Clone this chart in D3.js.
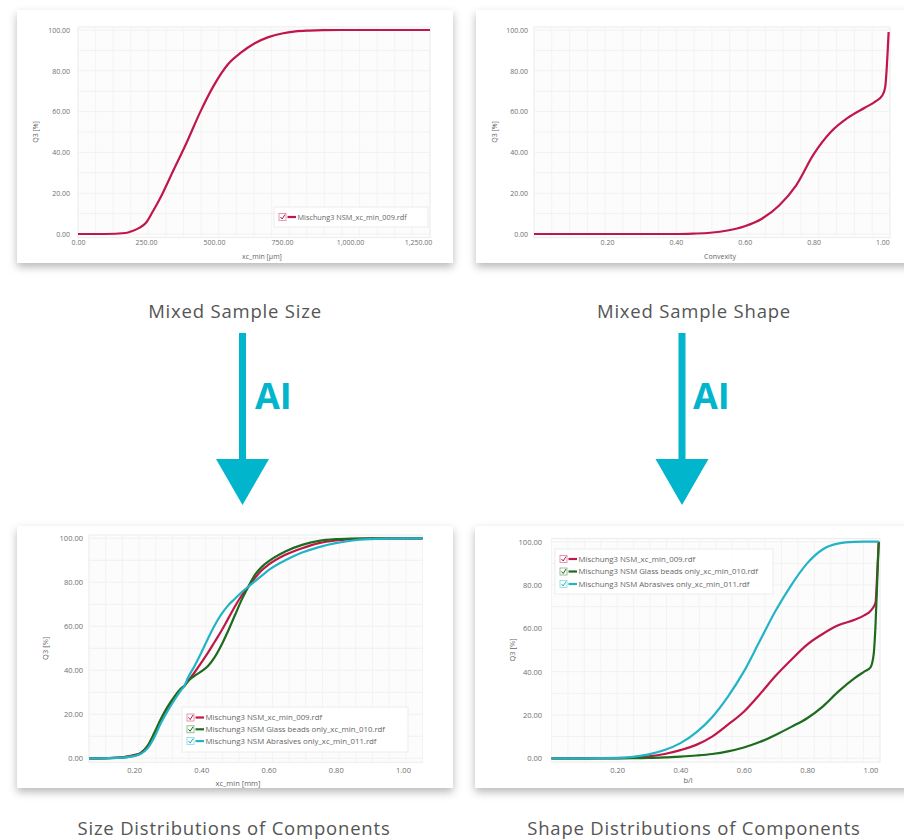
<!DOCTYPE html>
<html>
<head>
<meta charset="utf-8">
<script src="https://cdn.jsdelivr.net/npm/d3@7"></script>
<style>
  html, body { margin: 0; padding: 0; background: #ffffff; }
  svg { display: block; }
</style>
</head>
<body>
<script>
// ---------------- DATA ----------------
const yTicks = [0, 20, 40, 60, 80, 100];
const sizeMixTicks = [0, 250, 500, 750, 1000, 1250];
const unitTicks = [0.2, 0.4, 0.6, 0.8, 1.0];

// Mixed sample size (xc_min in µm)
const sizeMixX   = [0, 100, 175, 200, 225, 250, 275, 300, 350, 400, 450, 500, 550, 600, 650, 700, 750, 800, 850, 900, 1000, 1100, 1250, 1294];
const sizeMixQ3  = [0, 0, 0.5, 1.5, 3, 5.5, 11, 17, 31, 45, 60, 73, 83, 89, 93.5, 96.5, 98.3, 99.3, 99.7, 99.9, 100, 100, 100, 100];

// Mixed sample shape (convexity)
const shapeMixX  = [-0.012, 0.1, 0.2, 0.3, 0.4, 0.45, 0.5, 0.55, 0.6, 0.65, 0.7, 0.75, 0.8, 0.85, 0.9, 0.95, 0.98, 1.0, 1.008, 1.018];
const shapeMixQ3 = [0, 0, 0, 0, 0, 0.2, 0.6, 1.7, 3.8, 7.5, 14, 24, 39, 50, 57, 62, 65, 68, 72, 99];

// Size distributions of components (xc_min in mm)
const sizeCompX        = [0.066, 0.1, 0.15, 0.2, 0.22, 0.24, 0.26, 0.28, 0.3, 0.32, 0.34, 0.35, 0.36, 0.38, 0.4, 0.42, 0.44, 0.46, 0.48, 0.5, 0.52, 0.54, 0.56, 0.58, 0.6, 0.65, 0.7, 0.75, 0.8, 0.85, 0.9, 1.0, 1.058];
const sizeCompMixed    = [0, 0, 0.3, 1.5, 2.5, 5.5, 11, 17.5, 23, 27.5, 31.5, 33, 35, 39, 43.5, 48, 53, 58, 63.5, 69, 74, 78, 82, 85.5, 88, 92.5, 95.5, 97.8, 99, 99.6, 99.9, 100, 100];
const sizeCompGlass    = [0, 0, 0.2, 1.2, 2.3, 5.5, 11.5, 18, 23.5, 28, 31.8, 33, 35, 37.5, 39.5, 42, 46, 51.5, 58, 65, 72, 78, 83.5, 87, 89.5, 94, 97, 98.8, 99.6, 99.9, 100, 100, 100];
const sizeCompAbrasive = [0, 0, 0.2, 1.0, 2.0, 4.5, 9.5, 16, 21.5, 26.5, 31, 33, 36.5, 42, 48, 54.5, 60.5, 65.5, 69.5, 72.5, 75.5, 78, 80.5, 83, 85.5, 90, 93.5, 96, 97.8, 99, 99.6, 100, 100];

// Shape distributions of components (b/l)
const shapeCompX        = [-0.007, 0.1, 0.2, 0.25, 0.3, 0.35, 0.4, 0.45, 0.5, 0.55, 0.6, 0.65, 0.7, 0.75, 0.8, 0.85, 0.9, 0.95, 0.98, 1.0, 1.01, 1.016, 1.022, 1.026];
const shapeCompMixed    = [0, 0, 0.1, 0.3, 0.9, 2, 3.8, 6.2, 10, 15.5, 21.5, 29.5, 38, 45.5, 52.5, 57.5, 61.5, 64, 66, 68, 70, 72, 88, 100];
const shapeCompGlass    = [0, 0, 0, 0.05, 0.2, 0.4, 0.8, 1.3, 2, 3.2, 5, 7.5, 10.8, 14.5, 18.5, 24, 31, 37, 40, 42, 48, 62, 85, 100];
const shapeCompAbrasive = [0, 0, 0.2, 0.7, 1.8, 3.8, 7, 12, 19, 28.5, 40, 54, 68, 80, 90, 96.5, 99.2, 99.9, 100, 100, 100, 100, 100, 100];

const seriesNames = [
  "Mischung3 NSM_xc_min_009.rdf",
  "Mischung3 NSM Glass beads only_xc_min_010.rdf",
  "Mischung3 NSM Abrasives only_xc_min_011.rdf"
];
const seriesColors = ["#c0174a", "#1d6b1d", "#22b3c6"];
const captions = ["Mixed Sample Size", "Mixed Sample Shape", "Size Distributions of Components", "Shape Distributions of Components"];

// ---------------- DRAWING ----------------
const W = 904, H = 840;
const svg = d3.select("body").append("svg").attr("width", W).attr("height", H);
svg.append("rect").attr("width", W).attr("height", H).attr("fill", "#fff");

const defs = svg.append("defs");
const f = defs.append("filter").attr("id", "shadow").attr("x", "-10%").attr("y", "-10%").attr("width", "120%").attr("height", "125%");
f.append("feDropShadow").attr("dx", 0).attr("dy", 4).attr("stdDeviation", 4.5).attr("flood-color", "#000").attr("flood-opacity", 0.28);

const FONT = "'Open Sans', 'Noto Sans', sans-serif";
const fmt2 = d3.format(",.2f");

function panel(cfg, idx) {
  const g = svg.append("g");
  // card
  g.append("rect").attr("x", cfg.card.x).attr("y", cfg.card.y).attr("width", cfg.card.w).attr("height", cfg.card.h)
    .attr("fill", "#fff").attr("filter", "url(#shadow)");
  const clipId = "clip" + idx;
  defs.append("clipPath").attr("id", clipId).append("rect")
    .attr("x", cfg.card.x).attr("y", cfg.card.y).attr("width", cfg.card.w).attr("height", cfg.card.h);
  const c = g.append("g").attr("clip-path", `url(#${clipId})`);

  const x = d3.scaleLinear().domain(cfg.xDomain).range(cfg.xRange);
  const y = d3.scaleLinear().domain([0, 100]).range(cfg.yRange);

  const pTop = y(101.5), pBot = y(-1.8);
  // plot frame + faint grid
  c.append("rect").attr("x", cfg.xRange[0]).attr("y", pTop).attr("width", cfg.xRange[1] - cfg.xRange[0]).attr("height", pBot - pTop)
    .attr("fill", "#fcfcfc").attr("stroke", "#ececec").attr("stroke-width", 1);
  const gridY = d3.range(0, 101, 10);
  c.append("g").selectAll("line").data(gridY).join("line")
    .attr("x1", cfg.xRange[0]).attr("x2", cfg.xRange[1])
    .attr("y1", d => y(d)).attr("y2", d => y(d))
    .attr("stroke", "#f1f1f1").attr("stroke-width", 1);
  const gridX = d3.range(0, 21).map(i => cfg.xDomain[0] + (cfg.xDomain[1] - cfg.xDomain[0]) * i / 20);
  c.append("g").selectAll("line").data(gridX).join("line")
    .attr("x1", d => x(d)).attr("x2", d => x(d))
    .attr("y1", pTop).attr("y2", pBot)
    .attr("stroke", "#f3f3f3").attr("stroke-width", 1);

  // y axis (no domain line)
  const yAxis = d3.axisLeft(y).tickValues(yTicks).tickSize(0).tickPadding(0).tickFormat(d => fmt2(d));
  const ya = c.append("g").attr("transform", `translate(${cfg.yLabelRight},0)`).call(yAxis);
  ya.select(".domain").remove();
  ya.selectAll("text").attr("font-family", FONT).attr("font-size", cfg.tickSize).attr("fill", "#6f6f6f");

  // x axis
  const xAxis = d3.axisBottom(x).tickValues(cfg.xTicks).tickSize(0).tickPadding(0).tickFormat(d => fmt2(d));
  const xa = c.append("g").attr("transform", `translate(0,${cfg.xLabelY})`).call(xAxis);
  xa.select(".domain").remove();
  xa.selectAll("text").attr("font-family", FONT).attr("font-size", cfg.tickSize).attr("fill", "#6f6f6f");

  // axis titles
  c.append("text").attr("transform", `translate(${cfg.yTitleX},${(y(0) + y(100)) / 2}) rotate(-90)`)
    .attr("text-anchor", "middle").attr("font-family", FONT).attr("font-size", cfg.tickSize).attr("fill", "#666").text("Q3 [%]");
  c.append("text").attr("x", cfg.xTitleX).attr("y", cfg.xTitleY).attr("text-anchor", "middle")
    .attr("font-family", FONT).attr("font-size", cfg.tickSize).attr("fill", "#666").text(cfg.xTitle);

  // lines
  const line = d3.line().x(d => x(d[0])).y(d => y(d[1])).curve(d3.curveMonotoneX);
  cfg.series.forEach(s => {
    const pts = cfg.xs.map((xv, j) => [xv, s.values[j]]);
    c.append("path").datum(pts).attr("d", line).attr("fill", "none")
      .attr("stroke", s.color).attr("stroke-width", 2.2).attr("stroke-linejoin", "round");
  });

  // legend
  const L = cfg.legend;
  if (!L) return;
  c.append("rect").attr("x", L.x).attr("y", L.y).attr("width", L.w).attr("height", L.h)
    .attr("fill", "#fff").attr("fill-opacity", 0.85).attr("stroke", "#ececec");
  cfg.series.forEach((s, i) => {
    const cy = L.y + L.pad + i * L.step;
    const bx = L.x + 5;
    c.append("rect").attr("x", bx).attr("y", cy - 3.5).attr("width", 7).attr("height", 7)
      .attr("fill", "#fff").attr("stroke", s.color).attr("stroke-opacity", 0.55).attr("stroke-width", 0.8);
    c.append("path").attr("d", `M${bx + 1.5},${cy} L${bx + 3.2},${cy + 2} L${bx + 6},${cy - 2.5}`)
      .attr("fill", "none").attr("stroke", s.color).attr("stroke-width", 1);
    c.append("line").attr("x1", bx + 8.5).attr("x2", bx + 17).attr("y1", cy).attr("y2", cy)
      .attr("stroke", s.color).attr("stroke-width", 2.2);
    c.append("text").attr("x", bx + 18.5).attr("y", cy).attr("dy", "0.35em")
      .attr("font-family", FONT).attr("font-size", L.font).attr("fill", "#666").text(s.name);
  });
}

const panels = [
  {
    card: { x: 17, y: 10, w: 436, h: 253 },
    xDomain: [0, 1294], xRange: [78, 430], yRange: [234, 30],
    xTicks: sizeMixTicks, yLabelRight: 70, xLabelY: 240, tickSize: 7,
    yTitleX: 38, xTitleX: 262, xTitleY: 259, xTitle: "xc_min [µm]",
    xs: sizeMixX,
    series: [{ name: seriesNames[0], color: seriesColors[0], values: sizeMixQ3 }],
    legend: { x: 274, y: 207, w: 154, h: 20, pad: 10, step: 12, font: 7.3 }
  },
  {
    card: { x: 476, y: 10, w: 440, h: 253 },
    xDomain: [-0.012, 1.022], xRange: [534, 890], yRange: [234, 30],
    xTicks: unitTicks, yLabelRight: 528, xLabelY: 240, tickSize: 7,
    yTitleX: 497, xTitleX: 720, xTitleY: 259, xTitle: "Convexity",
    xs: shapeMixX,
    series: [{ name: seriesNames[0], color: seriesColors[0], values: shapeMixQ3 }],
    legend: null
  },
  {
    card: { x: 17, y: 526, w: 436, h: 262 },
    xDomain: [0.066, 1.058], xRange: [89, 422.5], yRange: [758.3, 538.3],
    xTicks: unitTicks, yLabelRight: 83, xLabelY: 768, tickSize: 7.5,
    yTitleX: 48, xTitleX: 238, xTitleY: 786, xTitle: "xc_min [mm]",
    xs: sizeCompX,
    series: [
      { name: seriesNames[0], color: seriesColors[0], values: sizeCompMixed },
      { name: seriesNames[1], color: seriesColors[1], values: sizeCompGlass },
      { name: seriesNames[2], color: seriesColors[2], values: sizeCompAbrasive }
    ],
    legend: { x: 182, y: 707, w: 226, h: 45, pad: 10.5, step: 11.8, font: 7.8 }
  },
  {
    card: { x: 475, y: 526, w: 440, h: 262 },
    xDomain: [-0.007, 1.03], xRange: [551.5, 880], yRange: [758.3, 541.7],
    xTicks: unitTicks, yLabelRight: 542, xLabelY: 768, tickSize: 7.5,
    yTitleX: 515, xTitleX: 688, xTitleY: 783, xTitle: "b/l",
    xs: shapeCompX,
    series: [
      { name: seriesNames[0], color: seriesColors[0], values: shapeCompMixed },
      { name: seriesNames[1], color: seriesColors[1], values: shapeCompGlass },
      { name: seriesNames[2], color: seriesColors[2], values: shapeCompAbrasive }
    ],
    legend: { x: 555, y: 549, w: 218, h: 45, pad: 10, step: 12.5, font: 7.8 }
  }
];

panels.forEach((p, i) => panel(p, i));

// captions
const capPos = [[235, 318], [694, 318], [234, 835], [694, 835]];
captions.forEach((t, i) => {
  svg.append("text").attr("x", capPos[i][0]).attr("y", capPos[i][1]).attr("text-anchor", "middle")
    .attr("font-family", "'Open Sans', sans-serif").attr("font-size", 18.5).attr("letter-spacing", 0.8)
    .attr("fill", "#555").text(t);
});

// AI arrows
const teal = "#00b5cc";
[[242.5, 255], [682, 693]].forEach(([ax, tx]) => {
  svg.append("rect").attr("x", ax - 3.5).attr("y", 333).attr("width", 7).attr("height", 130).attr("fill", teal);
  svg.append("path").attr("d", `M${ax - 26.5},459 L${ax + 26.5},459 L${ax},505 Z`).attr("fill", teal);
  svg.append("text").attr("x", tx).attr("y", 409).attr("font-family", "'Open Sans', sans-serif")
    .attr("font-weight", 700).attr("font-size", 36).attr("fill", teal).text("AI");
});
</script>
</body>
</html>
